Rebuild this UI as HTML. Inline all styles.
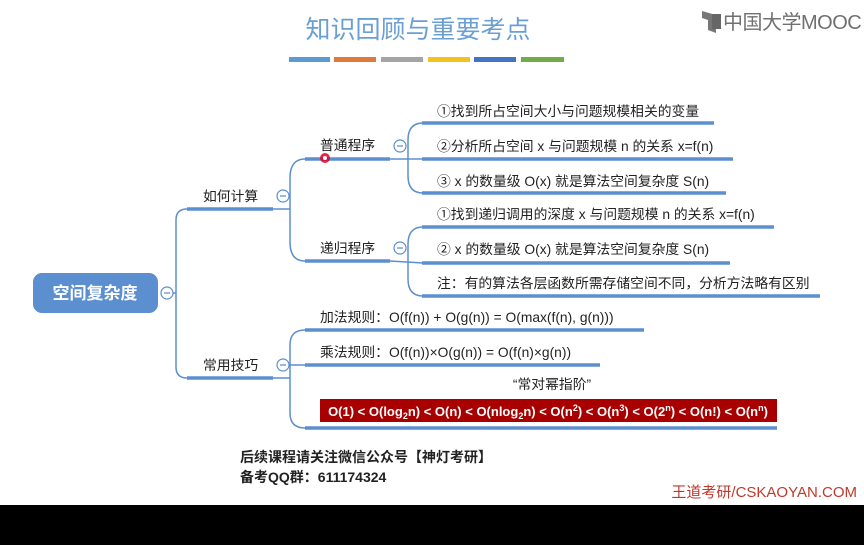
<!DOCTYPE html>
<html><head><meta charset="utf-8"><style>
html,body{margin:0;padding:0;background:#fff;}
svg{display:block;}
text{font-family:"Liberation Sans","Noto Sans CJK SC",sans-serif;}
</style></head><body>
<svg width="864" height="545" viewBox="0 0 864 545" xmlns="http://www.w3.org/2000/svg">
<rect width="864" height="545" fill="#fff"/>
<text x="418" y="38" font-size="25" fill="#6a9fd3" text-anchor="middle">知识回顾与重要考点</text>
<rect x="289" y="57" width="41" height="5" fill="#5b9bd5"/>
<rect x="334" y="57" width="42" height="5" fill="#e07a3c"/>
<rect x="381" y="57" width="42" height="5" fill="#a5a5a5"/>
<rect x="428" y="57" width="42" height="5" fill="#f5c21b"/>
<rect x="474" y="57" width="42" height="5" fill="#4472c4"/>
<rect x="521" y="57" width="43" height="5" fill="#70ad47"/>
<path d="M702 11 L716 15 L716 33 L708 30 L708 20 L702 18Z" fill="#777"/>
<rect x="712" y="14" width="9" height="15" fill="#666"/>
<text x="723" y="29" font-size="20" fill="#707070" letter-spacing="-0.5">中国大学MOOC</text>
<g fill="none" stroke="#5b8fcf">
<path d="M173 293 L176 293" stroke-width="1.5"/>
<path d="M187 209 Q176 209 176 220 L176 367 Q176 378 187 378" stroke-width="1.5"/>
<path d="M187 209 L273 209" stroke-width="3.5"/>
<path d="M187 378 L273 378" stroke-width="3.5"/>
<path d="M273 209 L290 209" stroke-width="1.5"/>
<path d="M305 159 Q290 159 290 178 L290 242 Q290 261 305 261" stroke-width="1.5"/>
<path d="M305 159 L390 159" stroke-width="3.5"/>
<path d="M305 261 L390 261" stroke-width="3.5"/>
<path d="M390 159 L423 159" stroke-width="1.5"/>
<path d="M423 123 Q408 123 408 140 L408 176 Q408 193 423 193" stroke-width="1.5"/>
<path d="M422 123 L714 123" stroke-width="3.5"/>
<path d="M422 159 L733 159" stroke-width="3.5"/>
<path d="M422 193 L726 193" stroke-width="3.5"/>
<path d="M390 261 L423 263" stroke-width="1.5"/>
<path d="M423 227 Q408 227 408 244 L408 279 Q408 296 423 296" stroke-width="1.5"/>
<path d="M422 227 L774 227" stroke-width="3.5"/>
<path d="M422 263 L730 263" stroke-width="3.5"/>
<path d="M422 296 L820 296" stroke-width="3.5"/>
<path d="M273 378 L290 378" stroke-width="1.5"/>
<path d="M305 330 Q290 330 290 345 L290 413 Q290 428 305 428" stroke-width="1.5"/>
<path d="M290 365 L305 365" stroke-width="1.5"/>
<path d="M305 330 L644 330" stroke-width="3.5"/>
<path d="M305 365 L600 365" stroke-width="3.5"/>
<path d="M305 428 L777 428" stroke-width="3.5"/>
</g>
<g fill="#fff" stroke="#5b8fcf" stroke-width="1.2">
<circle cx="167" cy="293" r="6"/>
<circle cx="283" cy="196" r="6"/>
<circle cx="283" cy="365" r="6"/>
<circle cx="400" cy="146" r="6"/>
<circle cx="400" cy="248" r="6"/>
</g>
<g stroke="#5b8fcf" stroke-width="1.2">
<path d="M164 293h6M280 196h6M280 365h6M397 146h6M397 248h6"/>
</g>
<rect x="33" y="273" width="125" height="40" rx="9" fill="#5b8fcf"/>
<text x="95" y="299" font-size="17" font-weight="bold" fill="#fff" text-anchor="middle">空间复杂度</text>
<g font-size="13.8" fill="#222">
<text x="203" y="201">如何计算</text>
<text x="203" y="370">常用技巧</text>
<text x="320" y="150">普通程序</text>
<text x="320" y="253">递归程序</text>
<text x="437" y="116">①找到所占空间大小与问题规模相关的变量</text>
<text x="437" y="151">②分析所占空间 x 与问题规模 n 的关系 x=f(n)</text>
<text x="437" y="186">③ x 的数量级 O(x) 就是算法空间复杂度 S(n)</text>
<text x="437" y="219">①找到递归调用的深度 x 与问题规模 n 的关系 x=f(n)</text>
<text x="437" y="254">②  x 的数量级 O(x) 就是算法空间复杂度 S(n)</text>
<text x="437" y="288">注：有的算法各层函数所需存储空间不同，分析方法略有区别</text>
<text x="320" y="322">加法规则：O(f(n)) + O(g(n)) = O(max(f(n), g(n)))</text>
<text x="320" y="357">乘法规则：O(f(n))×O(g(n)) = O(f(n)×g(n))</text>
<text x="552" y="389" text-anchor="middle">“常对幂指阶”</text>
</g>
<circle cx="325" cy="158" r="5" fill="#e0002a" opacity="0.85"/>
<circle cx="325" cy="158" r="2" fill="#fff"/>
<rect x="320" y="399" width="457" height="23" fill="#a80000"/>
<text x="548" y="416" font-size="13" font-weight="bold" fill="#fff" text-anchor="middle">O(1) &lt; O(log<tspan font-size="9" dy="3">2</tspan><tspan dy="-3">n) &lt; O(n) &lt; O(nlog</tspan><tspan font-size="9" dy="3">2</tspan><tspan dy="-3">n) &lt; O(n</tspan><tspan font-size="9" dy="-5">2</tspan><tspan dy="5">) &lt; O(n</tspan><tspan font-size="9" dy="-5">3</tspan><tspan dy="5">) &lt; O(2</tspan><tspan font-size="9" dy="-5">n</tspan><tspan dy="5">) &lt; O(n!) &lt; O(n</tspan><tspan font-size="9" dy="-5">n</tspan><tspan dy="5">)</tspan></text>
<g font-size="14" font-weight="bold" fill="#222">
<text x="240" y="462">后续课程请关注微信公众号【神灯考研】</text>
<text x="240" y="482">备考QQ群：611174324</text>
</g>
<text x="857" y="497" font-size="15" fill="#c0392b" text-anchor="end">王道考研/CSKAOYAN.COM</text>
<rect x="0" y="505" width="864" height="40" fill="#000"/>
</svg>
</body></html>
